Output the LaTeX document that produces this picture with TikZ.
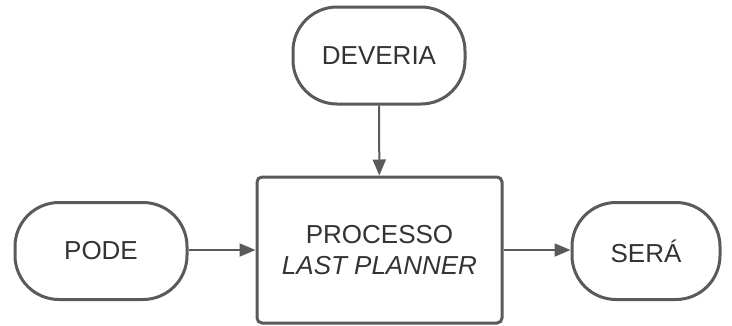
\documentclass[tikz,border=0pt]{standalone}
\usepackage{fontspec}
\setmainfont{Liberation Sans}
\usetikzlibrary{arrows.meta}
\definecolor{edge}{HTML}{5A5A5A}
\definecolor{ink}{HTML}{333333}
\begin{document}
\begin{tikzpicture}[x=1pt,y=-1pt,
  lbl/.style={font=\fontsize{26}{32}\selectfont, text=ink},
  pill/.style={draw=edge, line width=3pt, fill=white, rounded corners=44pt,
    minimum width=172pt, minimum height=97pt, inner sep=0pt, lbl},
  procbox/.style={draw=edge, line width=3pt, fill=white, rounded corners=5pt,
    minimum width=245pt, minimum height=146pt, inner sep=0pt, lbl, align=center},
  flow/.style={draw=edge, line width=2pt, -{Triangle[length=16pt,width=13pt]}}]
  \useasboundingbox (0,0) rectangle (732,325);
  \node[pill] (dev) at (379,55.5) {DEVERIA};
  \node[procbox] (proc) at (379.5,250) {PROCESSO\\[-1pt]\textit{LAST PLANNER}};
  \node[pill] (pode) at (101,251) {PODE};
  \node[pill, minimum width=148pt] (sera) at (646,251) {SERÁ};
  \draw[flow] (dev) -- (proc);
  \draw[flow] (pode.east |- proc.west) -- (proc.west);
  \draw[flow] (proc.east) -- (sera.west |- proc.east);
\end{tikzpicture}
\end{document}
